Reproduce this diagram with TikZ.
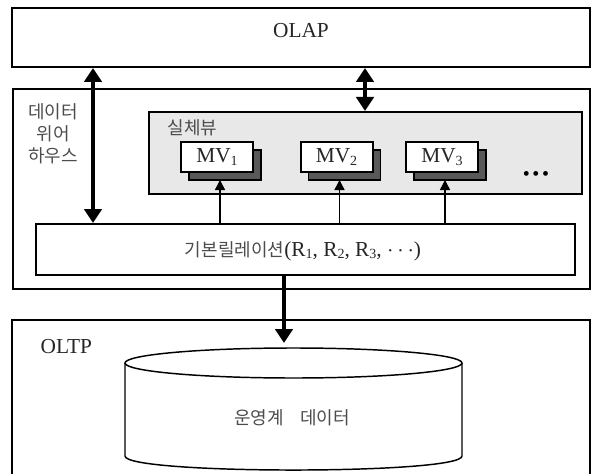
\documentclass[tikz,border=0pt]{standalone}
\usepackage{fontspec}
\setmainfont{Liberation Serif}
\newfontfamily\kr{Noto Sans CJK KR}
\usetikzlibrary{arrows.meta,fit}
% small lowered index digit for MV_i and R_i
\newcommand\idx[1]{\raisebox{-0.25ex}{\fontsize{10.5}{10.5}\selectfont #1}}

\begin{document}
\begin{tikzpicture}[x=0.75pt,y=-0.75pt,
  frame/.style={draw, line width=1.5pt, inner sep=0pt},
  latin/.style={font=\fontsize{16}{18}\selectfont, text=black!85},
  krtext/.style={font=\kr\fontsize{13.5}{16.5}\selectfont, text=black!70},
  mvnode/.style={frame, fill=white, minimum width=54pt, minimum height=22.5pt, latin},
  shadowbox/.style={draw, line width=1pt, fill=black!65, minimum width=54pt, minimum height=22.5pt, inner sep=0pt},
  bigtip/.tip={Triangle[width=13pt,length=10.5pt]},
  bigarrow/.style={line width=3pt, -bigtip},
  bigboth/.style={line width=3pt, bigtip-bigtip},
  thinarrow/.style={line width=1.1pt, -{Triangle[width=7.5pt,length=7.5pt]}}
]
\useasboundingbox (0,0) rectangle (599,474);

% OLAP layer
\node[frame, fit={(12,8) (590,67)}, latin] (olap) {OLAP};

% data warehouse
\node[frame, fit={(13,89) (590,289)}] (wh) {};
\node[krtext, align=center] (whlabel) at (53,134) {데이터\\위어\\하우스};

% materialized views
\node[frame, fill=black!9, fit={(149,112) (582,194)}] (mvbox) {};
\node[krtext, anchor=west] (mvlabel) at (163,128) {실체뷰};

\node[shadowbox] (s1) at (225,165) {};
\node[mvnode] (mv1) at (217,157) {MV\idx{1}};
\node[shadowbox] (s2) at (344.5,165) {};
\node[mvnode] (mv2) at (336.5,157) {MV\idx{2}};
\node[shadowbox] (s3) at (450,165) {};
\node[mvnode] (mv3) at (442,157) {MV\idx{3}};
\node[font=\fontsize{15}{15}\selectfont] (more) at (536,176)
  {\textbullet\hspace{2pt}\textbullet\hspace{2pt}\textbullet};

% base relations
\node[frame, fit={(36,224) (575,275)}] (base) {};
\node[latin] (baselabel) at (303,251)
  {{\kr\fontsize{13.5}{16}\selectfont\color{black!70}기본릴레이션}(R\idx{1}, R\idx{2}, R\idx{3}, $\cdots$)};

% OLTP layer, its lower edge runs off the page
\node[frame, fit={(12,320) (590,500)}] (oltp) {};
\node[latin, anchor=west] (oltplabel) at (36,347) {OLTP};

% operational database cylinder
\draw[line width=1.1pt] (293.5,363) ellipse [x radius=168.5, y radius=15];
\draw[line width=1.1pt] (125,363) -- (125,456)
  .. controls (125,474.7) and (462,474.7) .. (462,456) -- (462,363);
\node[krtext] (db) at (292,418) {운영계\hspace{0.9em}데이터};
\coordinate (dbtop) at (284,343);

% connectors
\coordinate (lx) at (93,0);
\coordinate (mx) at (365,0);
\coordinate (a1) at (220,180);
\coordinate (a2) at (339.5,180);
\coordinate (a3) at (445,180);

\draw[bigboth] (olap.south -| lx) -- (base.north -| lx);
\draw[bigboth] (olap.south -| mx) -- (mvbox.north -| mx);
\draw[bigarrow] (base.south -| dbtop) -- (dbtop);
\draw[thinarrow] (base.north -| a1) -- (a1);
\draw[thinarrow] (base.north -| a2) -- (a2);
\draw[thinarrow] (base.north -| a3) -- (a3);
\end{tikzpicture}
\end{document}
